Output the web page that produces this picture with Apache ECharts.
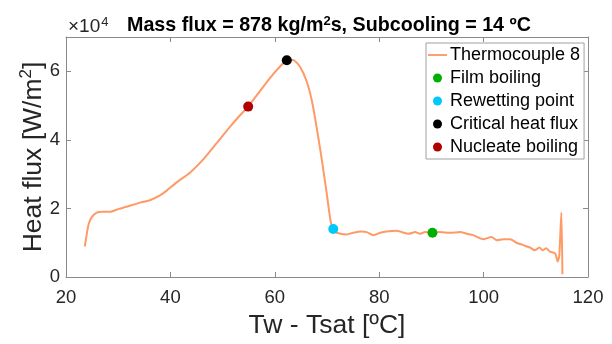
<!DOCTYPE html>
<html>
<head>
<meta charset="utf-8">
<script src="https://cdn.jsdelivr.net/npm/echarts@6/dist/echarts.min.js"></script>
<style>
  html, body { margin: 0; padding: 0; background: #fff; }
  #main { width: 612px; height: 344px; }
</style>
</head>
<body>
<div id="main"></div>
<script>
// Tw - Tsat [ºC] and heat flux in units of 1e4 W/m2 (thermocouple 8)
const tempDiff = [23.6, 24.3, 24.9, 25.9, 27.1, 28.4, 30.0, 31.6, 34.2, 36.1, 38.0, 39.3, 41.2, 43.8, 46.3, 48.9, 51.4, 53.3, 54.9, 57.2,
    59.1, 61.0, 62.3, 63.5, 64.8, 66.1, 67.1, 68.0, 69.0, 70.0, 70.7, 71.2, 71.9, 73.8, 75.0, 76.6, 77.6, 78.9, 80.2, 81.4,
    83.4, 84.3, 85.6, 86.9, 87.8, 88.8, 90.2, 91.6, 93.6, 95.5, 96.8, 98.0, 99.9, 101.5, 102.5, 103.8, 105.1, 106.3, 107.6, 108.9,
    109.8, 110.7, 111.3, 112.0, 112.7, 113.7, 114.2, 114.5, 114.9, 115.1];
const heatFlux = [0.89, 1.52, 1.74, 1.88, 1.90, 1.90, 1.98, 2.05, 2.17, 2.24, 2.38, 2.52, 2.76, 3.05, 3.43, 3.91, 4.38, 4.71, 4.97, 5.43,
    5.81, 6.14, 6.32, 6.33, 6.14, 5.71, 5.14, 4.38, 3.43, 2.38, 1.62, 1.40, 1.29, 1.24, 1.29, 1.33, 1.31, 1.22, 1.29, 1.33,
    1.35, 1.31, 1.26, 1.31, 1.26, 1.31, 1.29, 1.31, 1.29, 1.31, 1.26, 1.22, 1.10, 1.17, 1.07, 1.10, 1.10, 1.00, 0.93, 0.86,
    0.78, 0.86, 0.78, 0.84, 0.74, 0.69, 0.45, 0.62, 1.88, 0.08];

// marked points: [Tw - Tsat, heat flux]
const filmBoiling = [90.2, 1.29];
const rewetting = [71.2, 1.40];
const criticalFlux = [62.3, 6.32];
const nucleateBoiling = [54.9, 4.97];

const xTicks = [20, 40, 60, 80, 100, 120];
const yTicks = [0, 2, 4, 6];

const FONT = '"Liberation Sans", Arial, Helvetica, sans-serif';
const axisGray = '#8a8a8a';
const labelColor = '#262626';

const myChart = echarts.init(document.getElementById('main'));

const boxAxis = {
    axisLine: { show: true, onZero: false, lineStyle: { color: axisGray, width: 1 } },
    axisTick: { show: true, inside: true, length: 5, lineStyle: { color: axisGray } },
    splitLine: { show: false }
};

const option = {
    animation: false,
    textStyle: { fontFamily: FONT },
    grid: { left: 66, right: 24, top: 37, bottom: 64 },
    title: {
        text: 'Mass flux = 878 kg/m{sup|2}s, Subcooling = 14 ºC',
        left: 122,
        top: 10,
        textStyle: {
            fontFamily: FONT, fontSize: 19.7, fontWeight: 'bold', color: '#000',
            rich: { sup: { fontSize: 13, fontWeight: 'bold', verticalAlign: 'top', padding: [0, 0, 9, 0], fontFamily: FONT } }
        }
    },
    graphic: [{
        type: 'text',
        left: 68,
        top: 16,
        style: {
            text: '×10{s|4}',
            font: '19px ' + FONT,
            fill: labelColor,
            rich: { s: { fontSize: 13, fontFamily: FONT, fill: labelColor, verticalAlign: 'top', padding: [0, 0, 8, 1] } }
        }
    }],
    legend: {
        orient: 'vertical',
        left: 426,
        top: 43,
        padding: [3, 4, 3, 2],
        itemGap: 5,
        itemWidth: 19,
        itemHeight: 9,
        backgroundColor: '#fff',
        borderColor: '#a0a0a0',
        borderWidth: 1,
        borderRadius: 0,
        textStyle: { fontFamily: FONT, fontSize: 18, color: '#000', lineHeight: 18, padding: [0, 0, 0, -2] },
        data: [
            { name: 'Thermocouple 8', icon: 'path://M0,0H20V2H0Z' },
            'Film boiling', 'Rewetting point', 'Critical heat flux', 'Nucleate boiling'
        ]
    },
    xAxis: [Object.assign({
        type: 'value',
        min: xTicks[0],
        max: xTicks[xTicks.length - 1],
        interval: 20,
        position: 'bottom',
        name: 'Tw - Tsat [ºC]',
        nameLocation: 'middle',
        nameGap: 35,
        nameTextStyle: { fontFamily: FONT, fontSize: 26.5, color: labelColor },
        axisLabel: { fontFamily: FONT, fontSize: 18.5, color: labelColor, margin: 11 }
    }, boxAxis), Object.assign({
        type: 'value',
        min: xTicks[0],
        max: xTicks[xTicks.length - 1],
        interval: 20,
        position: 'top',
        axisLabel: { show: false }
    }, boxAxis)],
    yAxis: [Object.assign({
        type: 'value',
        min: 0,
        max: 7,
        interval: 2,
        position: 'left',
        name: 'Heat flux [W/m{sup|2}]',
        nameLocation: 'middle',
        nameGap: 17,
        nameMoveOverlap: false,
        nameTextStyle: {
            fontFamily: FONT, fontSize: 26.5, color: labelColor,
            rich: { sup: { fontSize: 17, fontFamily: FONT, color: labelColor, verticalAlign: 'top', padding: [0, 0, 14, 0] } }
        },
        axisLabel: {
            fontFamily: FONT, fontSize: 18.5, color: labelColor, margin: 6, showMaxLabel: false,
            formatter: v => (yTicks.indexOf(v) >= 0 ? String(v) : '')
        }
    }, boxAxis), Object.assign({
        type: 'value',
        min: 0,
        max: 7,
        interval: 2,
        position: 'right',
        axisLabel: { show: false }
    }, boxAxis)],
    series: [
        {
            name: 'Thermocouple 8',
            type: 'line',
            data: tempDiff.map((t, i) => [t, heatFlux[i]]),
            symbol: 'none',
            smooth: 0.2,
            lineStyle: { color: '#ff9a66', width: 2 },
            itemStyle: { color: '#ff9a66' },
            z: 2
        },
        { name: 'Film boiling', type: 'scatter', data: [filmBoiling], symbolSize: 10, itemStyle: { color: '#00b000', opacity: 1 }, z: 3 },
        { name: 'Rewetting point', type: 'scatter', data: [rewetting], symbolSize: 10, itemStyle: { color: '#00c8ff', opacity: 1 }, z: 3 },
        { name: 'Critical heat flux', type: 'scatter', data: [criticalFlux], symbolSize: 10, itemStyle: { color: '#000000', opacity: 1 }, z: 3 },
        { name: 'Nucleate boiling', type: 'scatter', data: [nucleateBoiling], symbolSize: 10, itemStyle: { color: '#b00000', opacity: 1 }, z: 3 }
    ]
};

myChart.setOption(option);
</script>
</body>
</html>
